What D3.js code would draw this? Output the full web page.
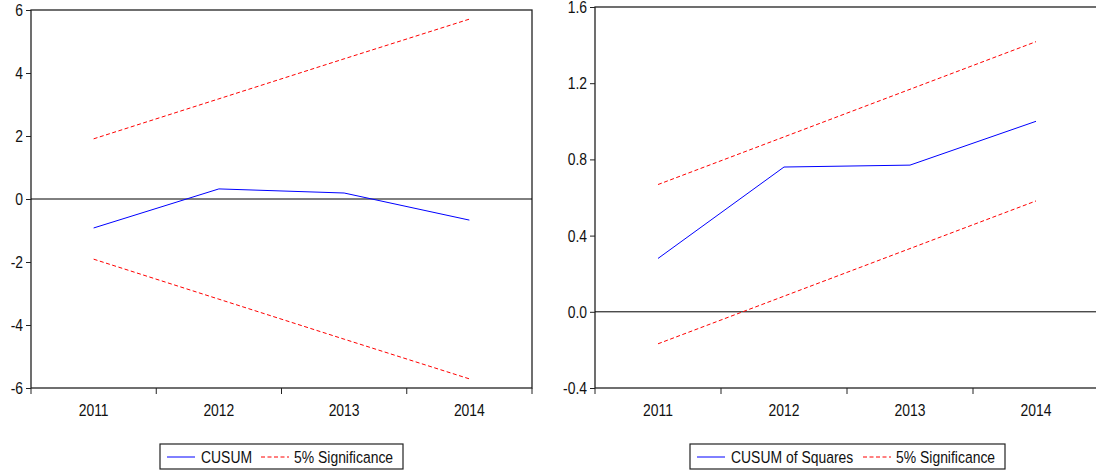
<!DOCTYPE html>
<html>
<head>
<meta charset="utf-8">
<script src="https://cdn.jsdelivr.net/npm/d3@7"></script>
<style>
  html, body { margin: 0; padding: 0; background: #fff; }
  svg { display: block; }
  text { font-family: "Liberation Sans", Arial, sans-serif; font-size: 17px; fill: #111; }
</style>
</head>
<body>
<svg id="chart" width="1096" height="475"></svg>
<script>
// Observation years
const years = ["2011", "2012", "2013", "2014"];

// CUSUM test
const cusum = [-0.92, 0.32, 0.19, -0.67];
const cusumUpper = [1.91, 3.18, 4.45, 5.71];
const cusumLower = [-1.91, -3.18, -4.45, -5.71];
const cusumTicks = [-6, -4, -2, 0, 2, 4, 6];

// CUSUM of squares test
const cusumSq = [0.28, 0.76, 0.77, 1.00];
const cusumSqUpper = [0.668, 0.918, 1.168, 1.418];
const cusumSqLower = [-0.168, 0.082, 0.332, 0.582];
const cusumSqTicks = [-0.4, 0.0, 0.4, 0.8, 1.2, 1.6];

// narrow lettering: horizontally condensed text
const SX = 0.82;
const FONT = "'Liberation Sans', Arial, sans-serif";

const svg = d3.select("#chart");

function panel(opts) {
  const g = svg.append("g");
  const x = d3.scaleBand().domain(years).range([opts.x0, opts.x1]).padding(0);
  const y = d3.scaleLinear().domain(opts.yDomain).range([opts.y1, opts.y0]);
  const cx = d => x(d) + x.bandwidth() / 2;

  // frame
  g.append("rect")
    .attr("x", opts.x0).attr("y", opts.y0)
    .attr("width", opts.x1 - opts.x0).attr("height", opts.y1 - opts.y0)
    .attr("fill", "none").attr("stroke", "#222").attr("stroke-width", 1.3);

  // y axis
  const yAxis = d3.axisLeft(y).tickValues(opts.yTicks).tickSize(5).tickPadding(3)
    .tickFormat(opts.yFormat);
  const ya = g.append("g").attr("transform", `translate(${opts.x0},0)`).call(yAxis);
  ya.select(".domain").remove();
  ya.selectAll(".tick line").attr("stroke", "#222");
  ya.selectAll(".tick text").attr("x", -8 / SX);

  // x axis: labels at band centres, ticks on band edges
  const xa = g.append("g").attr("transform", `translate(0,${opts.y1})`)
    .call(d3.axisBottom(x).tickSize(0).tickPadding(16));
  xa.select(".domain").remove();
  const edges = years.map(d => x(d)).concat([opts.x1]);
  g.selectAll(".edge").data(edges).enter().append("line")
    .attr("x1", d => d).attr("x2", d => d)
    .attr("y1", opts.y1).attr("y2", opts.y1 + 6)
    .attr("stroke", "#222");

  g.selectAll(".tick text")
    .attr("font-size", 17).attr("font-family", FONT).attr("fill", "#111")
    .attr("transform", `scale(${SX},1)`);

  // zero line
  g.append("line")
    .attr("x1", opts.x0).attr("x2", opts.x1)
    .attr("y1", y(0)).attr("y2", y(0))
    .attr("stroke", "#000").attr("stroke-width", 1);

  const line = d3.line().x((v, i) => cx(years[i])).y(v => y(v));

  [opts.upper, opts.lower].forEach(s => {
    g.append("path").attr("d", line(s))
      .attr("fill", "none").attr("stroke", "#ff0000").attr("stroke-width", 1)
      .attr("stroke-dasharray", "4,2.5");
  });
  g.append("path").attr("d", line(opts.series))
    .attr("fill", "none").attr("stroke", "#0000ff").attr("stroke-width", 1);

  // legend
  const L = opts.legend;
  const lg = g.append("g");
  lg.append("rect").attr("x", L.x).attr("y", 444).attr("width", L.w).attr("height", 25)
    .attr("fill", "#fff").attr("stroke", "#222").attr("stroke-width", 1.2);
  lg.append("line").attr("x1", L.x + 7).attr("x2", L.x + 35).attr("y1", 457).attr("y2", 457)
    .attr("stroke", "#0000ff");
  lg.append("text")
    .attr("transform", `translate(${L.x + 41},463) scale(${SX},1)`)
    .text(opts.name);
  lg.append("line").attr("x1", L.s).attr("x2", L.s + 28).attr("y1", 457).attr("y2", 457)
    .attr("stroke", "#ff0000").attr("stroke-dasharray", "4,2.5");
  lg.append("text")
    .attr("transform", `translate(${L.s + 33},463) scale(${SX},1)`)
    .text("5% Significance");
}

panel({
  x0: 31, x1: 532, y0: 10, y1: 388,
  yDomain: [-6, 6], yTicks: cusumTicks, yFormat: d => String(d),
  series: cusum, upper: cusumUpper, lower: cusumLower,
  name: "CUSUM", legend: { x: 160, w: 243, s: 261 }
});

panel({
  x0: 595, x1: 1099, y0: 7, y1: 388,
  yDomain: [-0.4, 1.6], yTicks: cusumSqTicks, yFormat: d => d.toFixed(1),
  series: cusumSq, upper: cusumSqUpper, lower: cusumSqLower,
  name: "CUSUM of Squares", legend: { x: 690, w: 315, s: 863 }
});
</script>
</body>
</html>
